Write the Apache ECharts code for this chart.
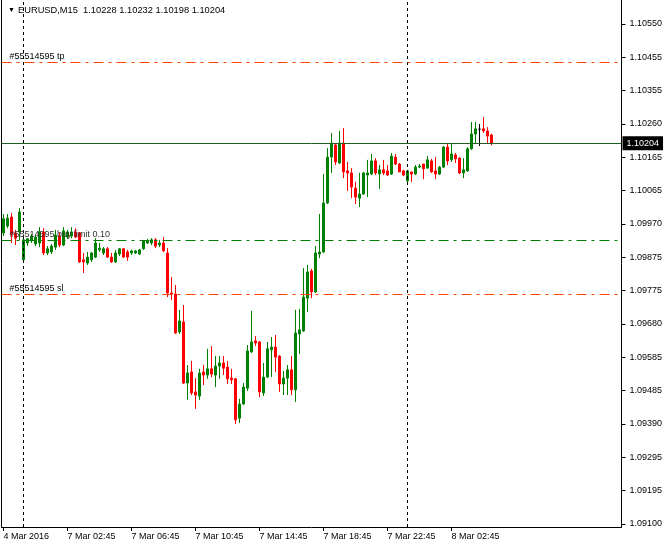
<!DOCTYPE html>
<html>
<head>
<meta charset="utf-8">
<script src="https://cdn.jsdelivr.net/npm/echarts@6/dist/echarts.min.js"></script>
<style>
html,body{margin:0;padding:0;background:#fff;}
#chart{width:665px;height:549px;}
</style>
</head>
<body>
<div id="chart"></div>
<script>
// ---- data ----
const symbolName = 'EURUSD,M15';
const opens = [1.09944,1.09964,1.09990,1.09944,1.09947,1.09866,1.09915,1.09921,1.09912,1.09915,
1.09947,1.09886,1.09889,1.09903,1.09935,1.09909,1.09932,1.09935,1.09947,1.09944,
1.09866,1.09857,1.09866,1.09874,1.09895,1.09886,1.09898,1.09874,1.09860,1.09883,
1.09898,1.09889,1.09886,1.09886,1.09883,1.09898,1.09915,1.09915,1.09924,1.09909,
1.09915,1.09886,1.09770,1.09767,1.09657,1.09686,1.09509,1.09541,1.09483,1.09471,
1.09541,1.09532,1.09550,1.09532,1.09558,1.09567,1.09555,1.09523,1.09521,1.09407,
1.09448,1.09494,1.09599,1.09631,1.09628,1.09480,1.09526,1.09605,1.09613,1.09587,
1.09506,1.09523,1.09547,1.09489,1.09651,1.09660,1.09755,1.09834,1.09773,1.09883,
1.09889,1.10031,1.10164,1.10199,1.10147,1.10205,1.10124,1.10118,1.10074,1.10045,
1.10057,1.10112,1.10115,1.10153,1.10115,1.10127,1.10124,1.10115,1.10164,1.10144,
1.10124,1.10095,1.10121,1.10115,1.10135,1.10144,1.10132,1.10153,1.10124,1.10115,
1.10135,1.10193,1.10156,1.10170,1.10161,1.10118,1.10124,1.10188,1.10231,1.10245,
1.10246,1.10240,1.10228];
const highs = [1.09999,1.09999,1.10002,1.09953,1.10016,1.09938,1.09929,1.09941,1.09938,1.09961,
1.09958,1.09906,1.09912,1.09953,1.09944,1.09961,1.09953,1.09961,1.09958,1.09947,
1.09886,1.09889,1.09889,1.09929,1.09915,1.09903,1.09903,1.09886,1.09895,1.09900,
1.09900,1.09895,1.09895,1.09895,1.09898,1.09924,1.09927,1.09929,1.09929,1.09924,
1.09932,1.09900,1.09816,1.09793,1.09721,1.09735,1.09561,1.09573,1.09523,1.09550,
1.09561,1.09608,1.09616,1.09587,1.09587,1.09587,1.09573,1.09550,1.09523,1.09463,
1.09509,1.09619,1.09718,1.09645,1.09631,1.09567,1.09628,1.09642,1.09648,1.09590,
1.09544,1.09561,1.09587,1.09721,1.09724,1.09842,1.09851,1.09840,1.09906,1.09999,
1.10115,1.10190,1.10234,1.10205,1.10240,1.10248,1.10150,1.10132,1.10092,1.10118,
1.10121,1.10156,1.10173,1.10161,1.10141,1.10156,1.10141,1.10176,1.10173,1.10147,
1.10127,1.10127,1.10121,1.10141,1.10144,1.10144,1.10167,1.10159,1.10164,1.10138,
1.10196,1.10205,1.10205,1.10176,1.10164,1.10161,1.10193,1.10266,1.10266,1.10260,
1.10280,1.10251,1.10232];
const lows = [1.09935,1.09958,1.09915,1.09909,1.09924,1.09860,1.09906,1.09915,1.09906,1.09903,
1.09880,1.09880,1.09883,1.09895,1.09903,1.09906,1.09927,1.09929,1.09929,1.09857,
1.09828,1.09851,1.09860,1.09871,1.09889,1.09880,1.09871,1.09857,1.09857,1.09877,
1.09871,1.09863,1.09880,1.09883,1.09880,1.09895,1.09912,1.09909,1.09900,1.09903,
1.09889,1.09758,1.09750,1.09651,1.09651,1.09506,1.09460,1.09474,1.09434,1.09460,
1.09503,1.09521,1.09526,1.09497,1.09521,1.09532,1.09506,1.09506,1.09390,1.09393,
1.09445,1.09486,1.09596,1.09616,1.09468,1.09471,1.09523,1.09526,1.09541,1.09483,
1.09474,1.09474,1.09474,1.09454,1.09593,1.09657,1.09715,1.09755,1.09770,1.09871,
1.09886,1.10028,1.10118,1.10141,1.10144,1.10103,1.10066,1.10045,1.10028,1.10019,
1.10054,1.10048,1.10112,1.10112,1.10072,1.10112,1.10109,1.10112,1.10141,1.10121,
1.10109,1.10092,1.10092,1.10112,1.10132,1.10100,1.10132,1.10118,1.10100,1.10112,
1.10132,1.10141,1.10150,1.10147,1.10115,1.10103,1.10121,1.10185,1.10205,1.10196,
1.10234,1.10205,1.10198];
const closes = [1.09985,1.09987,1.09941,1.09929,1.10005,1.09924,1.09927,1.09935,1.09932,1.09947,
1.09886,1.09898,1.09906,1.09938,1.09909,1.09950,1.09947,1.09947,1.09932,1.09860,
1.09860,1.09874,1.09886,1.09915,1.09900,1.09898,1.09874,1.09860,1.09886,1.09898,
1.09874,1.09874,1.09892,1.09892,1.09895,1.09921,1.09921,1.09924,1.09906,1.09915,
1.09892,1.09770,1.09767,1.09654,1.09689,1.09509,1.09538,1.09480,1.09474,1.09538,
1.09532,1.09550,1.09535,1.09558,1.09567,1.09552,1.09521,1.09518,1.09402,1.09448,
1.09497,1.09602,1.09628,1.09625,1.09483,1.09526,1.09608,1.09613,1.09584,1.09506,
1.09523,1.09547,1.09489,1.09654,1.09663,1.09758,1.09831,1.09773,1.09886,1.09889,
1.10031,1.10164,1.10205,1.10150,1.10205,1.10121,1.10118,1.10077,1.10048,1.10057,
1.10118,1.10118,1.10153,1.10118,1.10127,1.10118,1.10112,1.10167,1.10144,1.10121,
1.10112,1.10124,1.10115,1.10135,1.10138,1.10130,1.10156,1.10121,1.10115,1.10135,
1.10193,1.10153,1.10173,1.10159,1.10118,1.10127,1.10188,1.10231,1.10246,1.10245,
1.10240,1.10225,1.10204];

const totalSlots = 155;                 // bars + empty chart shift
const barsPerLabel = 16;
const xTickLabels = ['4 Mar 2016','7 Mar 02:45','7 Mar 06:45','7 Mar 10:45','7 Mar 14:45','7 Mar 18:45','7 Mar 22:45','8 Mar 02:45'];
const separatorIdx = [5, 101];          // day separators (7 Mar 00:00, 8 Mar 00:00)
const yTickLabels = ['1.09100','1.09195','1.09295','1.09390','1.09485','1.09585','1.09680','1.09775','1.09875','1.09970','1.10065','1.10165','1.10260','1.10355','1.10455','1.10550'];
const yMin = 1.090913, yMax = 1.106196;

const orderNo = '#55514595';
const tpLevel = 1.10440;
const buyLimitLevel = 1.09924;
const slLevel = 1.09767;

// ---- build ----
const xCategories = [];
for (let i = 0; i < totalSlots; i++) xCategories.push('b' + i);
const candleData = opens.map((o, i) => [o, closes[i], lows[i], highs[i]]);
const lastIdx = opens.length - 1;
const bid = closes[lastIdx];
const fmt = v => v.toFixed(5);
const titleText = symbolName + '  ' + fmt(opens[lastIdx]) + ' ' + fmt(highs[lastIdx]) + ' ' + fmt(lows[lastIdx]) + ' ' + fmt(closes[lastIdx]);

const y0 = parseFloat(yTickLabels[0]), y1 = parseFloat(yTickLabels[yTickLabels.length - 1]);
const yStep = (y1 - y0) / (yTickLabels.length - 1);
const yTickValues = yTickLabels.map((s, k) => y0 + k * yStep);

const FONT = "'Liberation Sans',Arial,sans-serif";
const FS = 9;
const showX = idx => idx % barsPerLabel === 0 && idx / barsPerLabel < xTickLabels.length;
const dashDot = [10, 5, 3, 5];
const orderLabel = (txt, color) => ({show: true, position: 'insideStartTop', distance: [8, 1], formatter: txt, color: color, fontSize: FS, fontFamily: FONT});

const chart = echarts.init(document.getElementById('chart'), null, {renderer: 'canvas'});
chart.setOption({
  animation: false,
  backgroundColor: '#ffffff',
  grid: {left: 1.5, right: 43.5, top: 0, bottom: 22, outerBoundsMode: 'none', containLabel: false},
  graphic: [
    {type: 'text', left: 8, top: 7, style: {text: '▼', font: '7px ' + FONT, fill: '#000'}},
    {type: 'text', left: 18, top: 6, style: {text: titleText, font: '9.3px ' + FONT, fill: '#000'}}
  ],
  xAxis: {
    type: 'category',
    data: xCategories,
    boundaryGap: true,
    axisLine: {show: true, lineStyle: {color: '#000', width: 1}},
    axisTick: {show: true, alignWithLabel: true, length: 4, interval: showX, lineStyle: {color: '#000'}},
    axisLabel: {
      show: true, interval: showX, align: 'left', margin: 5,
      color: '#000', fontSize: FS, fontFamily: FONT,
      formatter: (v, idx) => xTickLabels[idx / barsPerLabel] || ''
    },
    splitLine: {show: false}
  },
  yAxis: [{
    type: 'value', position: 'right', min: yMin, max: yMax,
    axisLine: {show: true, lineStyle: {color: '#000', width: 1}},
    axisTick: {show: true, length: 4, customValues: yTickValues, lineStyle: {color: '#000'}},
    axisLabel: {
      show: true, margin: 8, color: '#000', fontSize: FS, fontFamily: FONT,
      customValues: yTickValues,
      formatter: v => {
        let best = 0, d = Infinity;
        yTickValues.forEach((t, k) => { const dd = Math.abs(t - v); if (dd < d) { d = dd; best = k; } });
        return yTickLabels[best];
      }
    },
    splitLine: {show: false}
  }, {
    type: 'value', position: 'left', min: 0, max: 1,
    axisLine: {show: true, lineStyle: {color: '#000', width: 1}},
    axisTick: {show: false}, axisLabel: {show: false}, splitLine: {show: false}
  }],
  series: [
    {
      type: 'line', data: closes, yAxisIndex: 0, z: 1, silent: true,
      symbol: 'none', showSymbol: false, lineStyle: {opacity: 0, width: 0},
      markLine: {
        silent: true, symbol: 'none', animation: false, precision: 5,
        data: [
          ...separatorIdx.map(i => ({xAxis: xCategories[i], lineStyle: {color: '#000', type: [3, 3], width: 1}, label: {show: false}})),
          {yAxis: tpLevel, lineStyle: {color: '#FF4500', type: dashDot, width: 1}, label: orderLabel(orderNo + ' tp', '#000')},
          {yAxis: buyLimitLevel, lineStyle: {color: '#008000', type: dashDot, width: 1}, label: orderLabel(orderNo + ' buy limit 0.10', '#333')},
          {yAxis: slLevel, lineStyle: {color: '#FF4500', type: dashDot, width: 1}, label: orderLabel(orderNo + ' sl', '#000')},
          {yAxis: bid, lineStyle: {color: '#1e5e1e', type: 'solid', width: 1},
           label: {show: true, position: 'end', distance: 1, formatter: fmt(bid), color: '#fff', backgroundColor: '#000', padding: [3, 4, 2, 4], fontSize: FS, fontFamily: FONT}}
        ]
      }
    },
    {
      type: 'candlestick', z: 3, yAxisIndex: 0,
      data: candleData,
      barWidth: 2,
      itemStyle: {
        color: '#008000', color0: '#FF0000',
        borderColor: '#008000', borderColor0: '#FF0000',
        borderColorDoji: '#000000', borderWidth: 1
      }
    }
  ]
});
</script>
</body>
</html>
